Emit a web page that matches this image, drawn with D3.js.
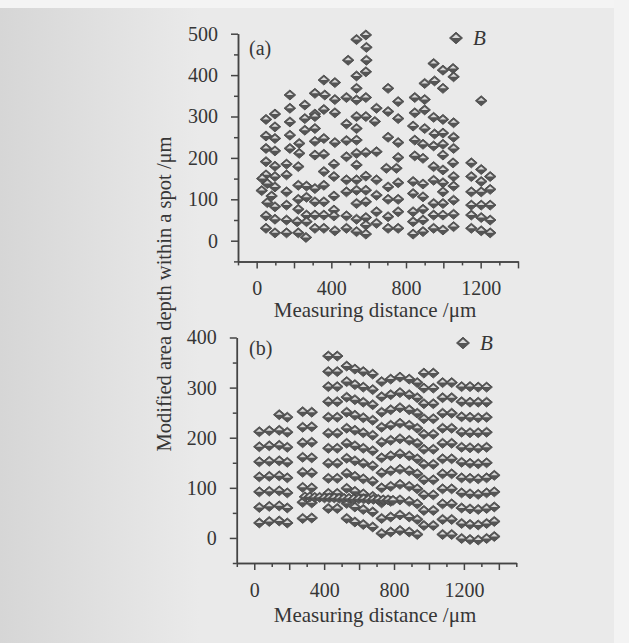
<!DOCTYPE html>
<html>
<head>
<meta charset="utf-8">
<script src="https://cdn.jsdelivr.net/npm/d3@7"></script>
<style>
body { margin: 0; background: #e9e9e9; }
svg { display: block; }
text { font-family: "Liberation Serif", "Times New Roman", serif; fill: #363636; }
</style>
</head>
<body>
<svg id="chart" width="629" height="643"></svg>
<script>
// panel (a): measured spots [distance um, depth um]
var spotsA = [
	[585,497],[535,486],[588,467],[490,436],[588,436],[585,408],[535,398],[360,388],[419,382],
	[535,368],[704,368],[758,336],[178,352],[312,356],[365,352],[419,341],[481,346],[535,340],
	[585,346],[642,320],[704,312],[758,295],[258,328],[178,320],[360,317],[312,306],[419,309],
	[50,293],[98,306],[98,275],[178,287],[258,295],[312,300],[481,282],[535,300],[585,300],
	[633,288],[535,271],[258,267],[312,271],[50,253],[98,247],[178,255],[228,235],[312,240],
	[360,247],[419,237],[481,242],[535,243],[704,250],[758,237],[50,223],[98,217],[178,223],
	[228,211],[312,207],[360,209],[481,203],[535,211],[585,213],[642,215],[758,201],[50,191],
	[98,180],[160,185],[223,179],[414,185],[535,183],[695,175],[749,175],
	[838,277],[847,309],[900,271],[900,316],[900,380],[847,346],[900,341],[953,386],[948,428],
	[998,412],[998,368],[1052,416],[1055,396],[948,298],[998,293],[1055,285],[953,258],[998,260],
	[1055,250],[891,233],[948,229],[998,233],[1055,223],[847,243],[847,205],[891,199],[998,207],
	[1052,188],[948,179],[998,171],[1150,188],[1203,338],[1203,172],
	[50,159],[98,155],[160,159],[57,138],[98,130],[27,121],[160,118],[57,92],[98,82],[160,86],
	[50,60],[98,52],[160,50],[50,30],[98,19],[160,19],[30,150],[80,108],
	[223,134],[267,132],[223,100],[267,105],[223,76],[267,62],[217,46],[267,46],[223,19],[264,8],
	[312,126],[360,134],[312,94],[360,94],[312,62],[360,62],[312,30],[360,30],[360,167],
	[414,155],[414,108],[414,74],[414,60],[419,24],[481,147],[535,147],[585,156],[642,147],
	[481,118],[535,122],[585,122],[642,110],[481,60],[535,90],[585,94],[535,52],[585,56],
	[642,70],[481,30],[535,22],[585,16],[585,38],[642,42],
	[704,130],[758,140],[704,100],[758,100],[704,58],[758,70],[704,30],[758,30],
	[838,143],[891,137],[838,114],[891,106],[838,70],[891,76],[838,46],[891,50],[838,16],[891,22],
	[948,146],[998,140],[1055,155],[998,118],[1055,132],[948,90],[998,90],[1055,98],[948,62],
	[998,62],[1055,64],[948,30],[998,26],[1055,34],
	[1150,155],[1251,155],[1150,118],[1203,118],[1251,124],[1150,86],[1203,86],[1251,86],
	[1150,62],[1203,56],[1251,50],[1150,30],[1203,24],[1251,19],[1203,143]
];

// panel (b): measuring columns and the depths read in each column
var colXB = [29, 86, 143, 189, 277, 329, 424, 475, 529, 576, 624, 678, 729, 781, 834, 887, 933,
	971, 1025, 1078, 1130, 1187, 1235, 1282, 1330, 1374];
var colDepthsB = [
	[30, 61, 92, 122, 152, 182, 212],
	[33, 63, 93, 123, 153, 184, 214],
	[34, 64, 94, 124, 154, 185, 215, 246],
	[30, 60, 90, 120, 151, 181, 211, 241],
	[39, 71, 101, 131, 161, 190, 221, 252],
	[40, 70, 100, 130, 160, 191, 222, 251],
	[59, 89, 119, 149, 179, 209, 241, 272, 302, 332, 363],
	[59, 89, 119, 149, 179, 209, 241, 272, 302, 332, 363],
	[39, 69, 99, 129, 159, 189, 219, 251, 281, 312, 343],
	[32, 62, 93, 123, 154, 184, 215, 245, 276, 306, 337],
	[27, 57, 88, 118, 149, 179, 210, 240, 271, 301, 332],
	[22, 52, 83, 113, 144, 174, 205, 235, 266, 296, 327],
	[9, 39, 70, 100, 130, 160, 191, 221, 251, 282, 312],
	[12, 42, 73, 103, 134, 164, 195, 225, 256, 286, 317],
	[15, 46, 76, 107, 137, 168, 198, 229, 260, 290, 321],
	[12, 42, 73, 103, 134, 164, 195, 225, 256, 286, 317],
	[7, 37, 68, 98, 128, 158, 189, 219, 249, 280, 310],
	[25, 55, 86, 116, 147, 177, 207, 238, 268, 299, 329],
	[25, 55, 86, 116, 147, 177, 207, 238, 268, 299, 329],
	[7, 37, 68, 98, 128, 158, 189, 219, 249, 280, 310],
	[7, 37, 68, 98, 128, 158, 189, 219, 249, 280, 310],
	[-1, 29, 60, 90, 120, 151, 181, 211, 242, 272, 302],
	[-3, 27, 58, 88, 119, 149, 180, 210, 241, 271, 302],
	[-4, 26, 57, 87, 118, 148, 179, 210, 240, 271, 301],
	[-1, 29, 59, 90, 120, 150, 181, 211, 241, 271, 301],
	[3, 33, 62, 92, 125]
];
// horizontal scan across panel (b)
var scanXB = [290, 318, 346, 374, 402, 430, 458, 486, 514, 542, 570, 598, 626, 654, 682, 710,
	738, 766, 794];
var scanYB = [82, 82, 81, 81, 80, 80, 80, 79, 79, 79, 78, 78, 78, 77, 77, 77, 76, 76, 75];

var xLabels = [0, 400, 800, 1200];
var xMajorA = [0, 200, 400, 600, 800, 1000, 1200, 1400];
var xMinorA = [-100, 100, 300, 500, 700, 900, 1100, 1300];
var yMajorA = [0, 100, 200, 300, 400, 500];
var yMinorA = [-50, 50, 150, 250, 350, 450];
var xMajorB = [0, 200, 400, 600, 800, 1000, 1200, 1400];
var xMinorB = [-100, 100, 300, 500, 700, 900, 1100, 1300, 1500];
var yMajorB = [0, 100, 200, 300, 400];
var yMinorB = [-50, 50, 150, 250, 350];

var svg = d3.select("#chart");
draw_background(svg);

var pointsB = [];
colXB.forEach(function(cx, i) {
	colDepthsB[i].forEach(function(dy) { pointsB.push([cx, dy]); });
});
scanXB.forEach(function(sx, i) { pointsB.push([sx, scanYB[i]]); });

draw_panel(svg, {
	xDomain: [-100, 1400], xRange: [238, 518],
	yDomain: [-50, 500], yRange: [261.4, 33.7],
	xMajor: xMajorA, xMinor: xMinorA, yMajor: yMajorA, yMinor: yMinorA,
	points: spotsA, tag: "(a)", tagY: 55,
	legend: [456, 38, 473, 45], titleY: 317, labelPad: 12
});
draw_panel(svg, {
	xDomain: [-100, 1500], xRange: [236.8, 516.3],
	yDomain: [-50, 400], yRange: [563, 337.5],
	xMajor: xMajorB, xMinor: xMinorB, yMajor: yMajorB, yMinor: yMinorB,
	points: pointsB, tag: "(b)", tagY: 355,
	legend: [463, 343, 480, 350], titleY: 622, labelPad: 13
});

svg.append("text")
	.attr("transform", "translate(171,294) rotate(-90)")
	.attr("text-anchor", "middle")
	.attr("font-size", 20.5)
	.text("Modified area depth within a spot /\u03bcm");

function draw_background(svg) {
	var grad = svg.append("defs").append("linearGradient")
				  .attr("id", "shade")
				  .attr("x1", 0).attr("x2", 1).attr("y1", 0).attr("y2", 0);
	grad.append("stop").attr("offset", 0).attr("stop-color", "#d6d6d6");
	grad.append("stop").attr("offset", 1).attr("stop-color", "#eaeaea");

	svg.append("rect").attr("width", 629).attr("height", 643).attr("fill", "#eaeaea");
	svg.append("rect").attr("x", 0).attr("y", 8).attr("width", 200).attr("height", 635).attr("fill", "url(#shade)");
	svg.append("rect").attr("width", 629).attr("height", 8).attr("fill", "#f4f4f4");
	svg.append("rect").attr("x", 614).attr("width", 15).attr("height", 643).attr("fill", "#f3f3f3");
}

function draw_panel(svg, cfg) {
	var x = d3.scaleLinear().domain(cfg.xDomain).range(cfg.xRange);
	var y = d3.scaleLinear().domain(cfg.yDomain).range(cfg.yRange);
	var g = svg.append("g");

	style_axis(g.append("g")
				.attr("transform", "translate(0," + cfg.yRange[0] + ")")
				.call(d3.axisBottom(x).tickValues(cfg.xMinor).tickSize(4).tickSizeOuter(0).tickFormat("")));
	style_axis(g.append("g")
				.attr("transform", "translate(0," + cfg.yRange[0] + ")")
				.call(d3.axisBottom(x).tickValues(cfg.xMajor).tickSize(7).tickSizeOuter(0).tickPadding(cfg.labelPad)
					.tickFormat(function(d) { return xLabels.indexOf(d) >= 0 ? d : ""; })));
	style_axis(g.append("g")
				.attr("transform", "translate(" + cfg.xRange[0] + ",0)")
				.call(d3.axisLeft(y).tickValues(cfg.yMinor).tickSize(4).tickSizeOuter(0).tickFormat("")));
	style_axis(g.append("g")
				.attr("transform", "translate(" + cfg.xRange[0] + ",0)")
				.call(d3.axisLeft(y).tickValues(cfg.yMajor).tickSize(7).tickSizeOuter(0).tickPadding(13)));

	var pts = g.append("g").selectAll("g")
			   .data(cfg.points)
			   .join("g")
			   .attr("transform", function(d) { return "translate(" + x(d[0]) + "," + y(d[1]) + ")"; });
	add_marker(pts, 5.8, 5);

	add_marker(g.append("g").attr("transform", "translate(" + cfg.legend[0] + "," + cfg.legend[1] + ")"), 6.5, 5.8);
	g.append("text")
	 .attr("x", cfg.legend[2]).attr("y", cfg.legend[3])
	 .attr("font-size", 21).attr("font-style", "italic")
	 .text("B");

	g.append("text")
	 .attr("x", 249).attr("y", cfg.tagY)
	 .attr("font-size", 20)
	 .text(cfg.tag);

	g.append("text")
	 .attr("x", 375).attr("y", cfg.titleY)
	 .attr("text-anchor", "middle")
	 .attr("font-size", 21)
	 .text("Measuring distance /\u03bcm");
}

function style_axis(axis) {
	axis.attr("color", "#444")
		.attr("font-size", 20)
		.attr("font-family", "Liberation Serif, serif");
	axis.selectAll("path, line").attr("stroke-width", 1.5);
	axis.selectAll("text").attr("fill", "#363636");
}

function add_marker(sel, hw, hh) {
	sel.append("path")
	   .attr("d", "M0," + (-hh) + "L" + hw + ",0L0," + hh + "L" + (-hw) + ",0Z")
	   .attr("fill", "#555")
	   .attr("stroke", "#4a4a4a")
	   .attr("stroke-width", 0.9);
	sel.append("path")
	   .attr("d", "M0," + (-hh + 2) + "L" + (hw - 2.4) + ",0L" + (-hw + 2.4) + ",0Z")
	   .attr("fill", "#d8d8d8");
}
</script>
</body>
</html>
